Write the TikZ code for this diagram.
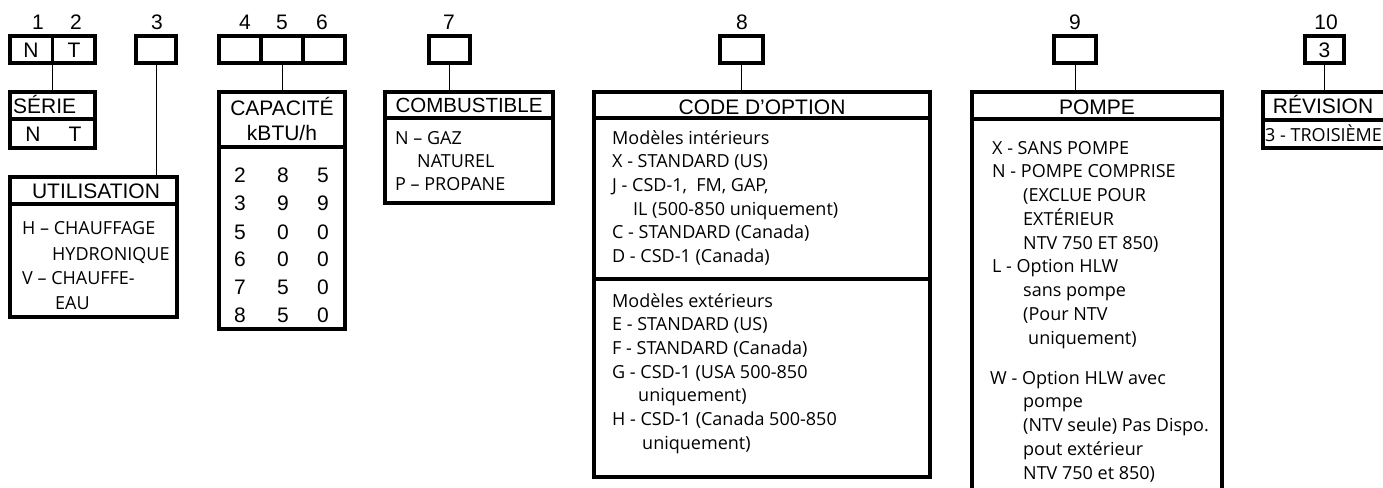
\documentclass[tikz,border=0pt]{standalone}
\usepackage{fontspec}
\setmainfont{Liberation Sans}
\newfontfamily\hdfont{Liberation Sans}
\newfontfamily\bdfont{Open Sans}
\tikzset{
  heavy/.style={draw, line width=3.2pt, inner sep=0pt, outer sep=0pt},
  cell/.style={heavy, minimum height=27pt},
  panel/.style={heavy, anchor=north west},
  link/.style={line width=1pt},
  sepline/.style={line width=3.2pt},
  hdtxt/.style={font=\hdfont\fontsize{21}{25}\selectfont, inner sep=0pt, anchor=base},
  bdtxt/.style={font=\bdfont\fontsize{18}{22}\selectfont, inner sep=0pt, anchor=base west},
}
\begin{document}
\begin{tikzpicture}[x=1pt,y=-1pt]
\path[use as bounding box, fill=white] (0,0) rectangle (1383,487);

% ---------- top code boxes ----------
\node[cell, minimum width=85pt] (b12) at (52.5,49.5) {};
\draw[sepline] (b12.north) -- (b12.south);
\node[hdtxt] (c1) at (31,57) {N};
\node[hdtxt] (c2) at (74,57) {T};
\node[hdtxt] (l1) at (38,30) {1};
\node[hdtxt] (l2) at (76,30) {2};

\node[cell, minimum width=40pt] (b3) at (156,49.5) {};
\node[hdtxt] (l3) at (157,30) {3};

\node[cell, minimum width=126pt] (b456) at (282,49.5) {};
\draw[sepline] (261,36) -- (261,63);
\draw[sepline] (303,36) -- (303,63);
\node[hdtxt] (l4) at (245,30) {4};
\node[hdtxt] (l5) at (282,30) {5};
\node[hdtxt] (l6) at (322,30) {6};

\node[cell, minimum width=41pt] (b7) at (449.5,49.5) {};
\node[hdtxt] (l7) at (449,30) {7};

\node[cell, minimum width=43pt] (b8) at (741.5,49.5) {};
\node[hdtxt] (l8) at (742,30) {8};

\node[cell, minimum width=42pt] (b9) at (1075,49.5) {};
\node[hdtxt] (l9) at (1075,30) {9};

\node[cell, minimum width=39pt] (b10) at (1324.5,49.5) {};
\node[hdtxt] (c10) at (1324.5,57) {3};
\node[hdtxt] (l10) at (1326,30) {10};

% ---------- SERIE ----------
\node[panel, minimum width=85pt, minimum height=56pt] (serie) at (10,92) {};
\draw[sepline] (10,119) -- (95,119);
\node[hdtxt, anchor=base west] (serieh) at (13,113) {SÉRIE};
\node[hdtxt] (sn) at (33,141) {N};
\node[hdtxt] (st) at (75,141) {T};

% ---------- UTILISATION ----------
\node[panel, minimum width=167pt, minimum height=140pt] (util) at (10,177) {};
\draw[sepline] (10,204) -- (177,204);
\node[hdtxt] (utilh) at (96,198) {UTILISATION};
\node[bdtxt] (u1) at (22,234) {H – CHAUFFAGE};
\node[bdtxt] (u2) at (52,260) {HYDRONIQUE};
\node[bdtxt] (u3) at (22,284) {V – CHAUFFE-};
\node[bdtxt] (u4) at (55,309) {EAU};

% ---------- CAPACITE ----------
\node[panel, minimum width=126pt, minimum height=237pt] (cap) at (219,92) {};
\draw[sepline] (219,147) -- (345,147);
\node[hdtxt] (caph) at (282,115) {CAPACITÉ};
\node[hdtxt] (capu) at (282,140) {kBTU/h};
\foreach \a/\b/\c/\y [count=\i] in {2/8/5/182, 3/9/9/210, 5/0/0/239, 6/0/0/266, 7/5/0/294, 8/5/0/322}{
  \node[hdtxt] (da\i) at (240,\y) {\a};
  \node[hdtxt] (db\i) at (283,\y) {\b};
  \node[hdtxt] (dc\i) at (323,\y) {\c};
}

% ---------- COMBUSTIBLE ----------
\node[panel, minimum width=168pt, minimum height=111pt] (comb) at (385,92) {};
\draw[sepline] (385,118) -- (553,118);
\node[hdtxt, font=\hdfont\fontsize{20.5}{25}\selectfont] (combh) at (469,112) {COMBUSTIBLE};
\node[bdtxt] (k1) at (395,144) {N – GAZ};
\node[bdtxt] (k2) at (417,167) {NATUREL};
\node[bdtxt] (k3) at (395,190) {P – PROPANE};

% ---------- CODE D'OPTION ----------
\node[panel, minimum width=336pt, minimum height=385pt] (code) at (594,92) {};
\draw[sepline] (594,118) -- (930,118);
\draw[sepline] (594,279) -- (930,279);
\node[hdtxt] (codeh) at (762,114) {CODE D’OPTION};
\node[bdtxt] (o1) at (612,144) {Modèles intérieurs};
\node[bdtxt] (o2) at (612,167.7) {X - STANDARD (US)};
\node[bdtxt] (o3) at (612,191.4) {J - CSD-1,\ \ FM, GAP,};
\node[bdtxt] (o4) at (633,215) {IL (500-850 uniquement)};
\node[bdtxt] (o5) at (612,238.8) {C - STANDARD (Canada)};
\node[bdtxt] (o6) at (612,262.5) {D - CSD-1 (Canada)};
\node[bdtxt] (o7) at (612,307) {Modèles extérieurs};
\node[bdtxt] (o8) at (612,330.7) {E - STANDARD (US)};
\node[bdtxt] (o9) at (612,354.4) {F - STANDARD (Canada)};
\node[bdtxt] (o10) at (612,378) {G - CSD-1 (USA 500-850};
\node[bdtxt] (o11) at (638,401.8) {uniquement)};
\node[bdtxt] (o12) at (612,425.5) {H - CSD-1 (Canada 500-850};
\node[bdtxt] (o13) at (642,449.2) {uniquement)};

% ---------- POMPE ----------
\node[panel, minimum width=250pt, minimum height=410pt] (pompe) at (972,92) {};
\draw[sepline] (972,119) -- (1222,119);
\node[hdtxt] (pompeh) at (1097,114) {POMPE};
\node[bdtxt] (p1) at (992,154) {X - SANS POMPE};
\node[bdtxt] (p2) at (992,177.75) {N - POMPE COMPRISE};
\node[bdtxt] (p3) at (1023,201.5) {(EXCLUE POUR};
\node[bdtxt] (p4) at (1023,225.25) {EXTÉRIEUR};
\node[bdtxt] (p5) at (1023,249) {NTV 750 ET 850)};
\node[bdtxt] (p6) at (992,272.75) {L - Option HLW};
\node[bdtxt] (p7) at (1023,296.5) {sans pompe};
\node[bdtxt] (p8) at (1023,320.25) {(Pour NTV};
\node[bdtxt] (p9) at (1028,344) {uniquement)};
\node[bdtxt] (p10) at (990,384) {W - Option HLW avec};
\node[bdtxt] (p11) at (1023,407.75) {pompe};
\node[bdtxt] (p12) at (1023,431.5) {(NTV seule) Pas Dispo.};
\node[bdtxt] (p13) at (1023,455.25) {pout extérieur};
\node[bdtxt] (p14) at (1023,479) {NTV 750 et 850)};

% ---------- REVISION ----------
\node[panel, minimum width=140pt, minimum height=56pt] (rev) at (1263,92) {};
\draw[sepline] (1263,120) -- (1403,120);
\node[hdtxt] (revh) at (1323,113) {RÉVISION};
\node[bdtxt] (r1) at (1265,141) {3 - TROISIÈME};

% ---------- connectors ----------
\draw[link] (b12.south) -- (serie.north);
\draw[link] (b3.south) -- (b3.south |- util.north);
\draw[link] (b456.south) -- (cap.north);
\draw[link] (b7.south) -- (b7.south |- comb.north);
\draw[link] (b8.south) -- (b8.south |- code.north);
\draw[link] (b9.south) -- (b9.south |- pompe.north);
\draw[link] (b10.south) -- (b10.south |- rev.north);
\end{tikzpicture}
\end{document}
